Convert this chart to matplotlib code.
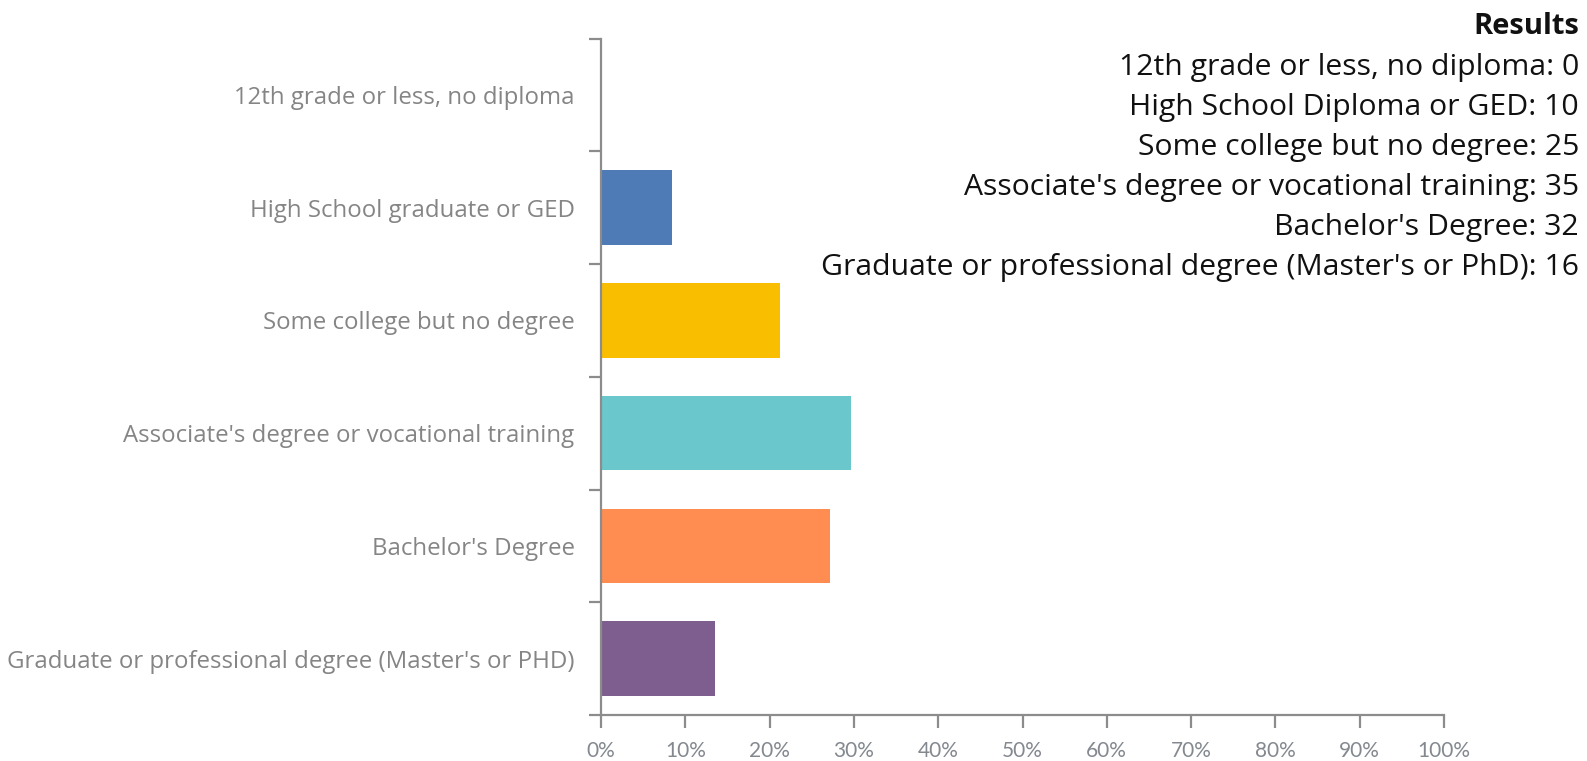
import matplotlib
matplotlib.use("Agg")
import matplotlib.pyplot as plt
import numpy as np
from matplotlib.ticker import FixedLocator, PercentFormatter

categories = [
    "12th grade or less, no diploma",
    "High School graduate or GED",
    "Some college but no degree",
    "Associate's degree or vocational training",
    "Bachelor's Degree",
    "Graduate or professional degree (Master's or PHD)",
]
result_labels = [
    "12th grade or less, no diploma",
    "High School Diploma or GED",
    "Some college but no degree",
    "Associate's degree or vocational training",
    "Bachelor's Degree",
    "Graduate or professional degree (Master's or PhD)",
]
counts = [0, 10, 25, 35, 32, 16]
colors = ["#4E7AB5", "#4E7AB5", "#F9BE00", "#6AC7CC", "#FF8C50", "#7D5E8E"]

total = sum(counts)
pct = [c / total * 100 for c in counts]

W, H = 1587, 761
dpi = 100
fig = plt.figure(figsize=(W / dpi, H / dpi), dpi=dpi)
ax = fig.add_axes([601 / W, 1 - 715 / H, (1444 - 601) / W, (715 - 38.5) / H])

n = len(categories)
y = np.arange(n)
ax.barh(y, pct, height=0.66, color=colors)
ax.set_ylim(n - 0.5, -0.5)
ax.set_xlim(0, 100)

axis_col = "#8C8C8C"
for s in ["top", "right"]:
    ax.spines[s].set_visible(False)
for s in ["left", "bottom"]:
    ax.spines[s].set_color(axis_col)
    ax.spines[s].set_linewidth(1.6)

ax.set_xticks(np.arange(0, 101, 10))
ax.xaxis.set_major_formatter(PercentFormatter(decimals=0))
ax.tick_params(axis="x", length=9, width=1.6, color=axis_col, labelcolor="#84898F",
               labelsize=15, pad=10)
for t in ax.get_xticklabels():
    t.set_family("Lato")

ax.set_yticks(y)
ax.set_yticklabels(categories, family="Open Sans", fontsize=17.3, color="#858585")
ax.tick_params(axis="y", which="major", length=0, pad=19)
ax.yaxis.set_minor_locator(FixedLocator(np.arange(-0.5, n, 1.0)))
ax.tick_params(axis="y", which="minor", length=9, width=1.6, color=axis_col)

# Results text block
fig.text(1579 / W, 1 - 26 / H, "Results", ha="right", va="center",
         family="Open Sans", fontweight="bold", fontsize=21, color="#111111")
ys = [68, 107, 147, 188, 228, 268]
for lab, c, yy in zip(result_labels, counts, ys):
    fig.text(1579 / W, 1 - yy / H, f"{lab}: {c}", ha="right", va="center",
             family="Open Sans", fontsize=21.7, color="#111111")

fig.savefig("out.png", dpi=dpi)
